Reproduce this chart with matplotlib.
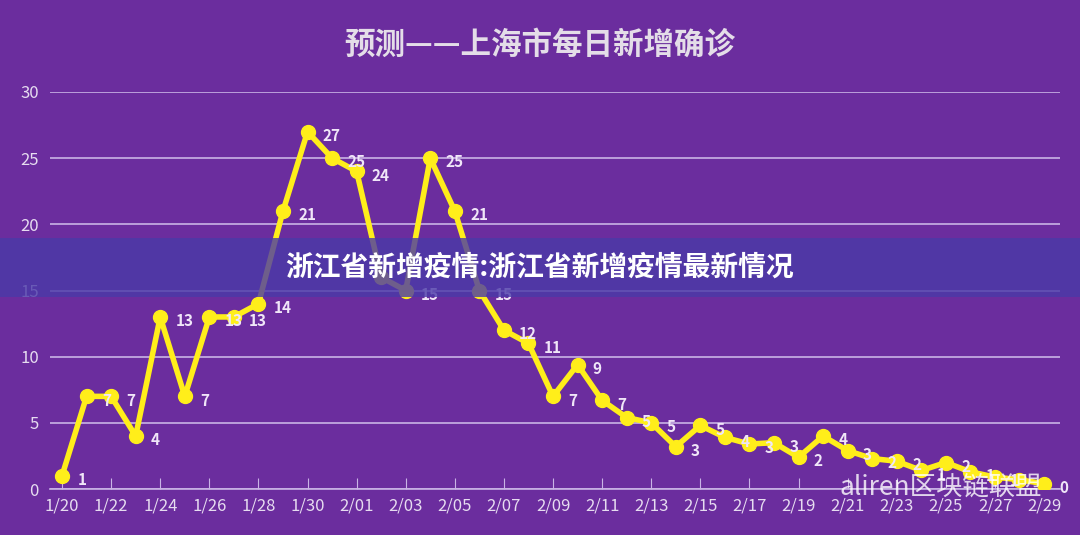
import numpy as np
import matplotlib.pyplot as plt
from matplotlib.patches import Rectangle

plt.rcParams['font.family'] = ['Noto Sans CJK SC', 'DejaVu Sans']

# 日期（2020-01-20 至 2020-02-29）
dates = ['1/20', '1/21', '1/22', '1/23', '1/24', '1/25', '1/26', '1/27', '1/28', '1/29',
         '1/30', '1/31', '2/01', '2/02', '2/03', '2/04', '2/05', '2/06', '2/07', '2/08',
         '2/09', '2/10', '2/11', '2/12', '2/13', '2/14', '2/15', '2/16', '2/17', '2/18',
         '2/19', '2/20', '2/21', '2/22', '2/23', '2/24', '2/25', '2/26', '2/27', '2/28', '2/29']
values = [1, 7, 7, 4, 13, 7, 13, 13, 14, 21,
          27, 25, 24, 16, 15, 25, 21, 15, 12, 11,
          7, 9.4, 6.7, 5.4, 5.0, 3.2, 4.8, 3.9, 3.4, 3.5,
          2.4, 4.0, 2.9, 2.3, 2.1, 1.4, 2.0, 1.3, 0.9, 0.7, 0.4]
labels = ['1', '7', '7', '4', '13', '7', '13', '13', '14', '21',
          '27', '25', '24', '', '15', '25', '21', '15', '12', '11',
          '7', '9', '7', '5', '5', '3', '5', '4', '3', '3',
          '2', '4', '3', '2', '2', '1', '2', '1', '1', '', '0']

bg = '#6b2d9e'
fig = plt.figure(figsize=(10.8, 5.35), dpi=100, facecolor=bg)
ax = fig.add_axes([50 / 1080, 46 / 535, 1010 / 1080, 397 / 535])
ax.set_facecolor(bg)

x = np.arange(len(dates))
ax.plot(x, values, color='#ffee1a', linewidth=4, marker='o', markersize=10, zorder=3)
for xi, v, lab in zip(x, values, labels):
    if lab:
        ax.annotate(lab, (xi, v), xytext=(11, -3), textcoords='offset points',
                    color='#f0e6f8', fontsize=11, fontweight='bold', va='center', zorder=4)

ax.set_xlim(-0.49, 40.65)
ax.set_ylim(0, 30)
ax.set_yticks(range(0, 31, 5))
ax.set_xticks(x[::2])
ax.set_xticklabels(dates[::2])
ax.grid(axis='y', color='#c9b3e6', linewidth=1.2)
ax.set_axisbelow(True)
for s in ['top', 'right', 'left']:
    ax.spines[s].set_visible(False)
ax.spines['bottom'].set_color('#c9b3e6')
ax.spines['bottom'].set_linewidth(1.2)
ax.tick_params(axis='y', length=0, colors='#e6dcf0', labelsize=12, pad=8)
ax.tick_params(axis='x', length=8, direction='in', color='#c9b3e6', colors='#e6dcf0',
               labelsize=12, pad=6)

fig.text(0.5, 1 - 45 / 535, '预测——上海市每日新增确诊', ha='center', va='center',
         fontsize=22, fontweight='bold', color='#e4dde8')

# 横幅
fig.patches.append(Rectangle((0, 1 - 297 / 535), 1, 59 / 535, transform=fig.transFigure,
                             facecolor='#4a3aa8', alpha=0.8, zorder=5))
fig.text(0.5, 1 - 268 / 535, '浙江省新增疫情:浙江省新增疫情最新情况', ha='center', va='center',
         fontsize=20, fontweight='bold', color='white', zorder=6)

# 水印
fig.text(0.965, 1 - 487 / 535, 'aliren区块链联盟', ha='right', va='center',
         fontsize=19, color='white', alpha=0.8, zorder=6)

fig.savefig('out.png', dpi=100, facecolor=bg)
